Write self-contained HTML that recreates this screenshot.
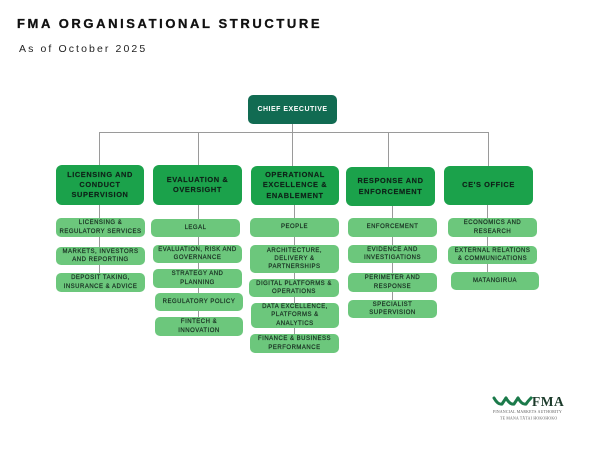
<!DOCTYPE html>
<html>
<head>
<meta charset="utf-8">
<style>
  html,body{margin:0;padding:0;background:#fff;}
  body{width:600px;height:450px;position:relative;overflow:hidden;font-family:"Liberation Sans",sans-serif;}
  .t1{position:absolute;left:17px;top:16px;font-size:13px;font-weight:bold;letter-spacing:2.6px;color:#111;white-space:nowrap;-webkit-text-stroke:0.3px #111;}
  .t2{position:absolute;left:19px;top:43px;font-size:10.5px;letter-spacing:2.1px;color:#222;white-space:nowrap;}
  .box{position:absolute;display:flex;align-items:center;justify-content:center;text-align:center;box-sizing:border-box;}
  .ce{background:#116b52;color:#fff;font-weight:bold;font-size:7px;letter-spacing:0.5px;border-radius:5px;}
  .l2{background:#1ba24b;color:#0e2218;font-weight:bold;font-size:7.4px;letter-spacing:0.6px;line-height:10.3px;border-radius:6px;-webkit-text-stroke:0.15px #0e2218;}
  .lf{background:#6cc77c;color:#172d20;font-size:6px;letter-spacing:0.5px;line-height:8.2px;border-radius:5px;-webkit-text-stroke:0.2px #172d20;}
  .ln{position:absolute;background:#9a9a9a;}
</style>
</head>
<body>
<div class="t1">FMA ORGANISATIONAL STRUCTURE</div>
<div class="t2">As of October 2025</div>

<!-- connectors -->
<div class="ln" style="left:292px;top:124px;width:1px;height:9px;"></div>
<div class="ln" style="left:99px;top:132px;width:390px;height:1px;"></div>
<div class="ln" style="left:99px;top:132px;width:1px;height:34px;"></div>
<div class="ln" style="left:198px;top:132px;width:1px;height:34px;"></div>
<div class="ln" style="left:292px;top:124px;width:1px;height:42px;"></div>
<div class="ln" style="left:388px;top:132px;width:1px;height:35px;"></div>
<div class="ln" style="left:488px;top:132px;width:1px;height:34px;"></div>

<div class="ln" style="left:99px;top:205px;width:1px;height:70px;"></div>
<div class="ln" style="left:198px;top:205px;width:1px;height:114px;"></div>
<div class="ln" style="left:294px;top:205px;width:1px;height:131px;"></div>
<div class="ln" style="left:392px;top:206px;width:1px;height:96px;"></div>
<div class="ln" style="left:487px;top:205px;width:1px;height:69px;"></div>

<!-- CE -->
<div class="box ce" style="left:248px;top:95px;width:89px;height:29px;">CHIEF EXECUTIVE</div>

<!-- Level 2 -->
<div class="box l2" style="left:56px;top:165px;width:88px;height:40px;">LICENSING AND<br>CONDUCT<br>SUPERVISION</div>
<div class="box l2" style="left:153px;top:165px;width:89px;height:40px;">EVALUATION &amp;<br>OVERSIGHT</div>
<div class="box l2" style="left:251px;top:166px;width:88px;height:39px;">OPERATIONAL<br>EXCELLENCE &amp;<br>ENABLEMENT</div>
<div class="box l2" style="left:346px;top:167px;width:89px;height:39px;">RESPONSE AND<br>ENFORCEMENT</div>
<div class="box l2" style="left:444px;top:166px;width:89px;height:39px;">CE'S OFFICE</div>

<!-- Column 1 -->
<div class="box lf" style="left:56px;top:218px;width:89px;height:19px;">LICENSING &amp;<br>REGULATORY SERVICES</div>
<div class="box lf" style="left:56px;top:247px;width:89px;height:18px;">MARKETS, INVESTORS<br>AND REPORTING</div>
<div class="box lf" style="left:56px;top:273px;width:89px;height:19px;">DEPOSIT TAKING,<br>INSURANCE &amp; ADVICE</div>

<!-- Column 2 -->
<div class="box lf" style="left:151px;top:219px;width:89px;height:18px;">LEGAL</div>
<div class="box lf" style="left:153px;top:245px;width:89px;height:18px;">EVALUATION, RISK AND<br>GOVERNANCE</div>
<div class="box lf" style="left:153px;top:269px;width:89px;height:19px;">STRATEGY AND<br>PLANNING</div>
<div class="box lf" style="left:155px;top:293px;width:88px;height:18px;">REGULATORY POLICY</div>
<div class="box lf" style="left:155px;top:317px;width:88px;height:19px;">FINTECH &amp;<br>INNOVATION</div>

<!-- Column 3 -->
<div class="box lf" style="left:250px;top:218px;width:89px;height:19px;">PEOPLE</div>
<div class="box lf" style="left:250px;top:245px;width:89px;height:28px;">ARCHITECTURE,<br>DELIVERY &amp;<br>PARTNERSHIPS</div>
<div class="box lf" style="left:249px;top:279px;width:90px;height:18px;">DIGITAL PLATFORMS &amp;<br>OPERATIONS</div>
<div class="box lf" style="left:251px;top:303px;width:88px;height:25px;">DATA EXCELLENCE,<br>PLATFORMS &amp;<br>ANALYTICS</div>
<div class="box lf" style="left:250px;top:334px;width:89px;height:19px;">FINANCE &amp; BUSINESS<br>PERFORMANCE</div>

<!-- Column 4 -->
<div class="box lf" style="left:348px;top:218px;width:89px;height:19px;">ENFORCEMENT</div>
<div class="box lf" style="left:348px;top:245px;width:89px;height:18px;">EVIDENCE AND<br>INVESTIGATIONS</div>
<div class="box lf" style="left:348px;top:273px;width:89px;height:19px;">PERIMETER AND<br>RESPONSE</div>
<div class="box lf" style="left:348px;top:300px;width:89px;height:18px;">SPECIALIST<br>SUPERVISION</div>

<!-- Column 5 -->
<div class="box lf" style="left:448px;top:218px;width:89px;height:19px;">ECONOMICS AND<br>RESEARCH</div>
<div class="box lf" style="left:448px;top:246px;width:89px;height:18px;">EXTERNAL RELATIONS<br>&amp; COMMUNICATIONS</div>
<div class="box lf" style="left:451px;top:272px;width:88px;height:18px;">MATANGIRUA</div>

<!-- Logo -->
<svg style="position:absolute;left:490px;top:394px;" width="90" height="32" viewBox="0 0 90 32">
  <g fill="none" stroke="#1b7a4a" stroke-width="3" stroke-linecap="round">
    <path d="M4 4 Q8 11 12 10 Q14 7 16 4"/>
    <path d="M16 4 Q20 11 24 10 Q26 7 28 4"/>
    <path d="M28 4 Q32 11 36 10 Q38 7 41 4"/>
  </g>
  <text x="42" y="12" font-family="Liberation Serif, serif" font-size="13.5" font-weight="bold" fill="#1b3a2a" letter-spacing="0.5">FMA</text>
  <text x="3" y="19" font-family="Liberation Serif, serif" font-size="3.8" fill="#555" letter-spacing="0.25">FINANCIAL MARKETS AUTHORITY</text>
  <text x="10" y="25.5" font-family="Liberation Serif, serif" font-size="3.8" fill="#555" letter-spacing="0.25">TE MANA TĀTAI HOKOHOKO</text>
</svg>
</body>
</html>
